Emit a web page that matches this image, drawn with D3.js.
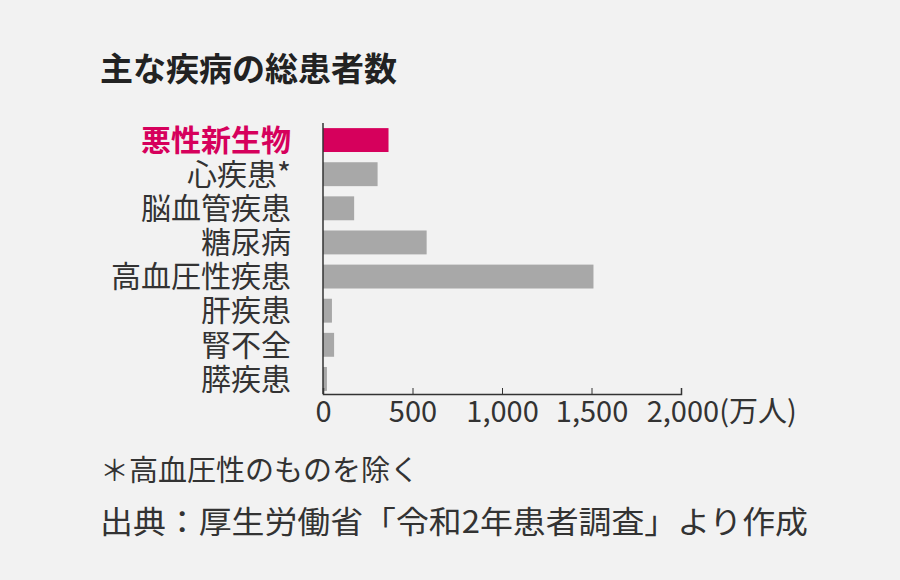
<!DOCTYPE html>
<html><head><meta charset="utf-8">
<script src="https://cdn.jsdelivr.net/npm/d3@7"></script>
<style>body{margin:0;background:#f2f2f2;}text{font-family:"Noto Sans CJK JP","Noto Sans",sans-serif;}</style>
</head><body>
<svg id="chart" width="900" height="580"></svg>
<script>
// 主な疾病の総患者数（万人）
var categories = ["悪性新生物", "心疾患*", "脳血管疾患", "糖尿病", "高血圧性疾患", "肝疾患", "腎不全", "膵疾患"];
var values = [366, 305, 174, 579, 1511, 50, 62, 22];
var tickValues = [0, 500, 1000, 1500, 2000];
var highlight = "悪性新生物";

var svg = d3.select("#chart");
svg.append("rect").attr("width", 900).attr("height", 580).attr("fill", "#f2f2f2");

var x = d3.scaleLinear().domain([0, 2000]).range([323, 681]);
var y = d3.scaleBand().domain(categories).range([123, 396]).paddingInner(0.3).paddingOuter(0.15);

svg.append("text").attr("x", 100).attr("y", 81)
    .attr("font-size", 33).attr("font-weight", "bold").attr("fill", "#222")
    .text("主な疾病の総患者数");

svg.selectAll("rect.bar").data(categories).enter().append("rect")
    .attr("class", "bar")
    .attr("x", x(0))
    .attr("y", function (d) { return y(d); })
    .attr("height", y.bandwidth())
    .attr("width", function (d, i) { return x(values[i]) - x(0); })
    .attr("fill", function (d) { return d == highlight ? "#d6005c" : "#a8a8a8"; });

svg.selectAll("text.cat").data(categories).enter().append("text")
    .attr("class", "cat")
    .attr("x", 291)
    .attr("y", function (d) { return y(d) + y.bandwidth() / 2; })
    .attr("dy", "0.36em")
    .attr("text-anchor", "end")
    .attr("font-size", 30)
    .attr("font-weight", function (d) { return d == highlight ? "bold" : "normal"; })
    .attr("fill", function (d) { return d == highlight ? "#d6005c" : "#333"; })
    .text(function (d) { return d; });

svg.append("line").attr("x1", x(0)).attr("x2", x(0)).attr("y1", 123).attr("y2", 394)
    .attr("stroke", "#333").attr("stroke-width", 1.5);

var axis = d3.axisBottom(x).tickValues(tickValues).tickSize(-6).tickFormat(d3.format(","));
var g = svg.append("g").attr("transform", "translate(0,394)").call(axis);
g.select(".domain").attr("stroke", "#333").attr("stroke-width", 1.5);
g.selectAll(".tick line").attr("stroke", "#333");
g.selectAll(".tick text").attr("font-size", 29).attr("fill", "#333").attr("dy", "0.85em")
    .attr("font-family", '"Noto Sans CJK JP",sans-serif')
    .text(function (d) { return d == 2000 ? "2,000(万人)" : d3.format(",")(d); })
    .attr("text-anchor", function (d) { return d == 2000 ? "start" : "middle"; })
    .attr("dx", function (d) { return d == 2000 ? "-1.2em" : 0; });

svg.append("text").attr("x", 100).attr("y", 481).attr("font-size", 29).attr("fill", "#333")
    .text("＊高血圧性のものを除く");
svg.append("text").attr("x", 100).attr("y", 533).attr("font-size", 31).attr("fill", "#333")
    .attr("textLength", 708).attr("lengthAdjust", "spacingAndGlyphs")
    .text("出典：厚生労働省「令和2年患者調査」より作成");
</script>
</body></html>
